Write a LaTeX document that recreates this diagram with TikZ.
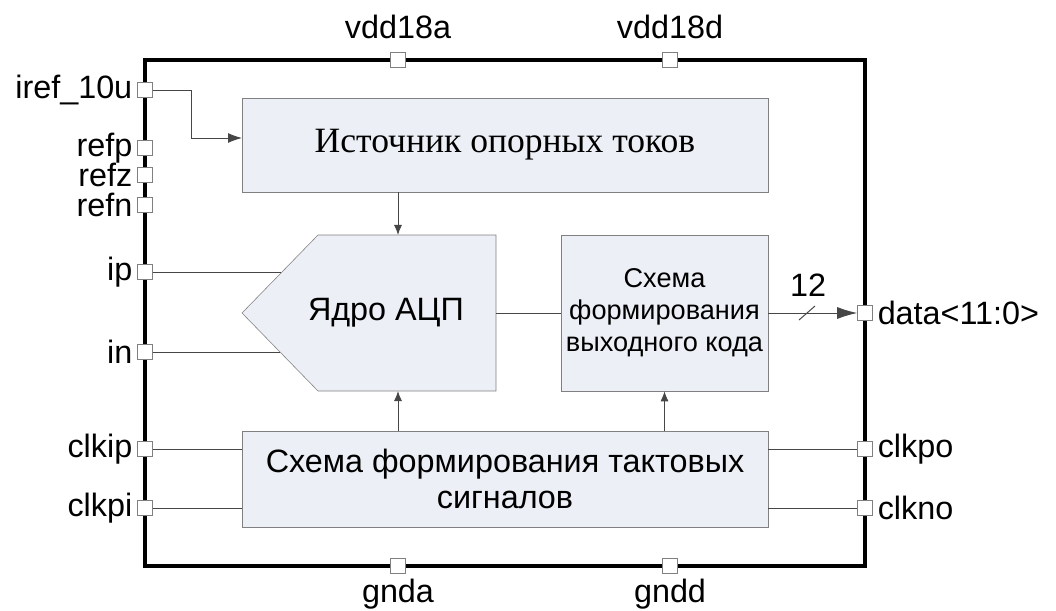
\documentclass[tikz,border=0pt]{standalone}
\usepackage{fontspec}
\setmainfont{Liberation Sans}
\newfontfamily\serifru{Liberation Serif}
\usetikzlibrary{arrows.meta}

\definecolor{blockfill}{RGB}{236,239,245}
\definecolor{blockline}{RGB}{128,128,128}
\definecolor{wirecol}{RGB}{70,70,70}

\tikzset{
  port/.style={draw=blockline,fill=white,minimum size=0.375cm,inner sep=0pt},
  block/.style={draw=blockline,fill=blockfill,inner sep=0pt,align=center},
  wire/.style={draw=wirecol,line width=0.7pt},
  >={Latex[length=0.25cm,width=0.2cm]}
}

\begin{document}
\begin{tikzpicture}[x=0.025cm,y=-0.025cm,font=\fontsize{23}{26}\selectfont]
\useasboundingbox (0,0) rectangle (1056,610);

\draw[line width=2.2pt] (145,60) rectangle (865,566);

\foreach \n/\y/\t in {iref/90/iref\_10u,refp/148/refp,refz/175/refz,refn/205/refn,ip/272/ip,in/352/in,clkip/449/clkip,clkpi/508/clkpi}
\node[port,label=left:\t] (\n) at (145,\y) {};

\foreach \n/\y/\t in {data/313/data<11:0>,clkpo/449/clkpo,clkno/508/clkno}
\node[port,label=right:\t] (\n) at (865,\y) {};

\foreach \n/\x in {vdd18a/398,vdd18d/670}
\node[port,label={[label distance=0.22cm]above:\n}] (\n) at (\x,60) {};

\foreach \n/\x in {gnda/398,gndd/670}
\node[port,label=below:\n] (\n) at (\x,566) {};

\node[block,font=\serifru\fontsize{25.3}{29}\selectfont,minimum width=13.15cm,minimum height=2.35cm] (ref) at (505,145) {Источник опорных токов};
\node[block,font=\fontsize{19.3}{22.7}\selectfont,minimum width=5.175cm,minimum height=3.9cm] (code) at (664.5,313) {Схема\\формирования\\выходного кода};
\node[block,minimum width=13.15cm,minimum height=2.4cm] (clk) at (505,479) {Схема формирования тактовых\\сигналов};

\draw[draw=blockline,fill=blockfill] (318,235) -- (496,235) -- (496,391) -- (318,391) -- (242,313) -- cycle;
\node (core) at (386,313) {Ядро АЦП};
\coordinate (core-n) at (398,235);
\coordinate (core-s) at (398,391);
\coordinate (core-e) at (496,313);
\coordinate (core-ip) at (281,272);
\coordinate (core-in) at (280,352);
\coordinate (ref-in) at (242,138);
\coordinate (bus) at (807,313);

\draw[wire,-{Latex[length=0.35cm,width=0.25cm]}] (iref.east) -- ++(39,0) |- (ref-in);
\draw[wire,->] (ref.south -| core-n) -- (core-n);
\draw[wire,->] (clk.north -| core-s) -- (core-s);
\draw[wire,->] (clk.north -| code.south) -- (code.south);
\draw[wire] (core-e) -- (code.west);
\draw[wire,-{Latex[length=0.5cm,width=0.3cm]}] (code.east) -- (data.west);
\draw[wire] ([shift={(-8,7)}]bus) -- ([shift={(8,-7)}]bus);
\node (width) at (808,285) {12};

\draw[wire] (ip.east) -- (core-ip);
\draw[wire] (in.east) -- (core-in);
\draw[wire] (clkip.east) -- (clkip -| clk.west);
\draw[wire] (clkpi.east) -- (clkpi -| clk.west);
\draw[wire] (clk.east |- clkpo) -- (clkpo.west);
\draw[wire] (clk.east |- clkno) -- (clkno.west);
\end{tikzpicture}
\end{document}
